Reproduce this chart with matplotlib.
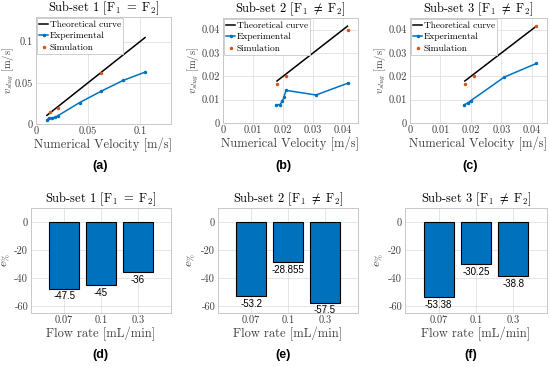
import numpy as np
import matplotlib.pyplot as plt

plt.rcParams['font.family'] = 'serif'
plt.rcParams['font.serif'] = ['cmr10', 'DejaVu Serif']
plt.rcParams['mathtext.fontset'] = 'cm'
plt.rcParams['axes.formatter.use_mathtext'] = True
plt.rcParams['axes.unicode_minus'] = False

BLUE = '#0072BD'
ORANGE = '#D95319'
GREY = '#404040'

# velocity panels: theoretical, experimental and simulation series
theo_x = [[0.0105, 0.021, 0.042, 0.063, 0.084, 0.105],
          [0.018, 0.021, 0.031, 0.0415],
          [0.018, 0.021, 0.031, 0.0415]]
exp_x = [[0.0105, 0.0126, 0.015, 0.018, 0.021, 0.042, 0.063, 0.084, 0.105],
         [0.0178, 0.019, 0.0198, 0.0203, 0.021, 0.031, 0.0415],
         [0.0178, 0.019, 0.020, 0.031, 0.0415]]
exp_y = [[0.005, 0.007, 0.0075, 0.008, 0.010, 0.026, 0.040, 0.053, 0.063],
         [0.0078, 0.0079, 0.0095, 0.011, 0.014, 0.012, 0.017],
         [0.0078, 0.0086, 0.0096, 0.0197, 0.0255]]
sim_x = [[0.0135, 0.021, 0.063],
         [0.018, 0.021, 0.0415],
         [0.018, 0.021, 0.0415]]
sim_y = [[0.014, 0.020, 0.062],
         [0.0166, 0.020, 0.040],
         [0.0167, 0.020, 0.0415]]
lims = [0.13, 0.045, 0.045]
ticks = [[0, 0.05, 0.1], [0, 0.01, 0.02, 0.03, 0.04], [0, 0.01, 0.02, 0.03, 0.04]]
tick_labels = [['0', '0.05', '0.1'], ['0', '0.01', '0.02', '0.03', '0.04'],
               ['0', '0.01', '0.02', '0.03', '0.04']]

# error bars
flow_rates = ['0.07', '0.1', '0.3']
errors = [[-47.5, -45, -36], [-53.2, -28.855, -57.5], [-53.38, -30.25, -38.8]]
error_labels = [['-47.5', '-45', '-36'], ['-53.2', '-28.855', '-57.5'],
                ['-53.38', '-30.25', '-38.8']]

titles = [r'Sub-set 1 $[\mathrm{F}_1\ =\ \mathrm{F}_2]$',
          r'Sub-set 2 $[\mathrm{F}_1\ \neq\ \mathrm{F}_2]$',
          r'Sub-set 3 $[\mathrm{F}_1\ \neq\ \mathrm{F}_2]$']

W, H = 550, 367
fig = plt.figure(figsize=(5.5, 3.67), dpi=100)


def px_axes(x0, x1, y0, y1):
    return fig.add_axes([x0 / W, 1 - y1 / H, (x1 - x0) / W, (y1 - y0) / H])


def style(ax):
    ax.grid(True, color='#e0e0e0', linewidth=0.6)
    ax.set_axisbelow(True)
    for s in ax.spines.values():
        s.set_color('#c8c8c8')
        s.set_linewidth(0.7)
    ax.tick_params(length=0, labelsize=7.5, colors=GREY, pad=2)


top_boxes = [(36, 171, 17, 124), (223, 358, 18, 123), (410, 547, 18, 123)]
bot_boxes = [(31, 171, 208, 313), (218, 358, 208, 313), (405, 547, 208, 313)]
top_ylab = [-0.148, -0.16, -0.16]
bot_ylab = [-0.135, -0.15, -0.14]

for i in range(3):
    ax = px_axes(*top_boxes[i])
    style(ax)
    ax.plot([theo_x[i][0], theo_x[i][-1]], [theo_x[i][0], theo_x[i][-1]],
            color='black', lw=1.1, label='Theoretical curve')
    ax.plot(exp_x[i], exp_y[i], color=BLUE, lw=1.1, marker='.', ms=3,
            label='Experimental')
    ax.plot(sim_x[i], sim_y[i], ls='none', marker='.', ms=3, color=ORANGE,
            label='Simulation')
    ax.set_xlim(0, lims[i])
    ax.set_ylim(0, lims[i])
    ax.set_xticks(ticks[i])
    ax.set_xticklabels(tick_labels[i])
    ax.set_yticks(ticks[i])
    ax.set_yticklabels(tick_labels[i])
    ax.set_title(titles[i], fontsize=9, pad=4)
    ax.set_xlabel('Numerical Velocity [m/s]', fontsize=9, color=GREY, labelpad=1)
    ax.set_ylabel(r'$v_{slug}$ [m/s]', fontsize=7.5, color=GREY)
    ax.yaxis.set_label_coords(top_ylab[i], 0.5)
    leg = ax.legend(loc='upper left', fontsize=6.8, handlelength=0.9,
                    handletextpad=0.2, borderpad=0.25, labelspacing=0.3,
                    borderaxespad=0.1, fancybox=False, framealpha=1)
    leg.get_frame().set_edgecolor('#c8c8c8')
    leg.get_frame().set_linewidth(0.6)

for i in range(3):
    ax = px_axes(*bot_boxes[i])
    style(ax)
    pos = np.arange(1, 4)
    ax.bar(pos, errors[i], width=0.8, color=BLUE, edgecolor='black', lw=0.8)
    for p, v, t in zip(pos, errors[i], error_labels[i]):
        ax.annotate(t, (p, v), xytext=(0, -2), textcoords='offset points',
                    ha='center', va='top', fontsize=7, family='Liberation Sans')
    ax.set_xlim(0.1, 3.9)
    ax.set_ylim(-65, 10)
    ax.set_xticks(pos)
    ax.set_xticklabels(flow_rates)
    ax.set_yticks([0, -20, -40, -60])
    ax.set_yticklabels(['0', '-20', '-40', '-60'])
    ax.set_title(titles[i], fontsize=9, pad=4)
    ax.set_xlabel('Flow rate [mL/min]', fontsize=9, color=GREY, labelpad=1)
    ax.set_ylabel(r'$e_{\%}$', fontsize=8.5, color=GREY)
    ax.yaxis.set_label_coords(bot_ylab[i], 0.5)

letters_top = [('(a)', 100), ('(b)', 283), ('(c)', 470)]
letters_bot = [('(d)', 100), ('(e)', 283), ('(f)', 471)]
for t, x in letters_top:
    fig.text(x / W, 1 - 166 / H, t, ha='center', va='center', fontsize=9,
             fontweight='bold', family='Liberation Sans')
for t, x in letters_bot:
    fig.text(x / W, 1 - 355 / H, t, ha='center', va='center', fontsize=9,
             fontweight='bold', family='Liberation Sans')

fig.savefig('out.png', dpi=100)
